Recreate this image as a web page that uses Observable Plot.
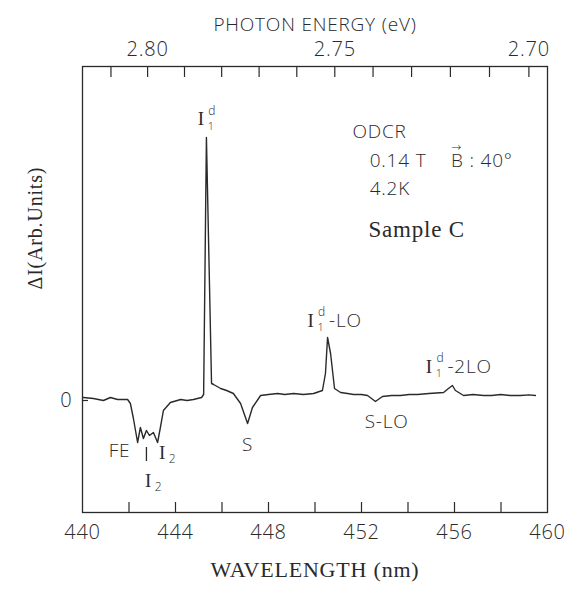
<!DOCTYPE html>
<html>
<head>
<meta charset="utf-8">
<script src="https://cdn.jsdelivr.net/npm/d3@7"></script>
<script src="https://cdn.jsdelivr.net/npm/@observablehq/plot@0.6"></script>
<style>
  html, body { margin: 0; padding: 0; background: #fff; }
  svg text { letter-spacing: 0.8px; }
</style>
</head>
<body>
<div id="chart"></div>
<script>
// ---- data ----
const wavelength = [
  440.04, 440.47, 440.90, 441.20, 441.51, 441.94, 442.06, 442.19, 442.37, 442.49,
  442.62, 442.75, 442.88, 443.05, 443.23, 443.35, 443.48, 443.78, 444.22, 444.50,
  444.77, 445.12, 445.21, 445.33, 445.55, 445.64, 445.94, 446.20, 446.49, 446.80,
  447.10, 447.31, 447.66, 448.00, 448.39, 448.70, 449.08, 449.50, 449.94, 450.32,
  450.45, 450.54, 450.67, 450.84, 451.10, 451.40, 451.66, 452.00, 452.26, 452.60,
  452.90, 453.30, 453.68, 454.05, 454.41, 454.90, 455.53, 455.74, 455.91, 456.04,
  456.39, 456.80, 457.25, 457.60, 457.98, 458.40, 458.84, 459.20, 459.48
];
const intensity = [
  0.075, 0.05, 0.0, 0.075, 0.025, 0.025, -0.075, -0.45, -1.05, -0.675,
  -0.95, -0.75, -0.875, -0.80, -1.05, -0.675, -0.25, -0.05, 0.025, 0.0,
  0.025, 0.075, 0.15, 6.575, 0.425, 0.40, 0.30, 0.25, 0.175, -0.075,
  -0.575, -0.175, 0.125, 0.15, 0.175, 0.15, 0.175, 0.15, 0.175, 0.25,
  0.675, 1.575, 1.175, 0.30, 0.20, 0.175, 0.15, 0.15, 0.125, -0.025,
  0.10, 0.125, 0.125, 0.15, 0.15, 0.175, 0.20, 0.30, 0.375, 0.25,
  0.125, 0.15, 0.125, 0.125, 0.15, 0.125, 0.125, 0.14, 0.125
];

const wavelengthTicks = [442, 444, 446, 448, 450, 452, 454, 456, 458];
const wavelengthLabels = [440, 444, 448, 452, 456, 460];
const energyTicks = [2.81, 2.80, 2.79, 2.78, 2.77, 2.76, 2.75, 2.74, 2.73, 2.72, 2.71, 2.70];
const energyLabels = [2.80, 2.75, 2.70];
const yTicks = [0];

const xTitle = "WAVELENGTH (nm)";
const topTitle = "PHOTON ENERGY (eV)";
const yTitle = "\u0394I(Arb.Units)";

// annotation anchors (wavelength nm, intensity a.u.)
const i1dLabels = [
  {x: 445.11, y: 7.03, suffix: ""},
  {x: 449.83, y: 2.0, suffix: "-LO"},
  {x: 454.92, y: 0.85, suffix: "-2LO"}
];
const i2Labels = [
  {x: 443.44, y: -1.30},
  {x: 442.84, y: -2.00}
];
const plainLabels = [
  {x: 441.59, y: -1.25, text: "FE"},
  {x: 447.10, y: -1.10, text: "S"},
  {x: 453.08, y: -0.525, text: "S-LO"}
];
const feMarker = [{x: 442.75, y1: -1.175, y2: -1.525}];
const infoLines = [
  {x: 451.61, y: 6.725, text: "ODCR"},
  {x: 452.35, y: 6.0, text: "0.14 T"},
  {x: 455.85, y: 6.0, text: "B : 40\u00B0"},
  {x: 452.35, y: 5.3, text: "4.2K"}
];
const vectorArrow = [{x: 455.85, y: 6.0, text: "\u2192"}];
const sampleLabel = [{x: 452.30, y: 4.275, text: "Sample C"}];

// ---- build ----
const HC = 1239.84;
const data = wavelength.map((x, i) => ({x, y: intensity[i]}));
const ink = "#2a2a2a";
const sans = "'Open Sans', 'DejaVu Sans', sans-serif";
const serif = "'Liberation Serif', serif";

const chart = Plot.plot({
  width: 577,
  height: 601,
  marginLeft: 82,
  marginRight: 30,
  marginTop: 66,
  marginBottom: 89,
  x: {domain: [440, 460]},
  y: {domain: [-2.8, 8.35]},
  style: {fontFamily: sans, fontSize: "18px", fontWeight: 300, color: ink, background: "#fff"},
  marks: [
    Plot.frame({stroke: ink, strokeWidth: 1.3}),
    // bottom axis
    Plot.axisX({anchor: "bottom", ticks: wavelengthTicks, tickSize: -10, tickFormat: () => "", label: null, stroke: ink, strokeWidth: 1.2}),
    Plot.axisX({anchor: "bottom", ticks: wavelengthLabels, tickSize: 0, tickPadding: 12, tickFormat: d => String(d), label: null, fontSize: 20, fill: ink}),
    // top axis (photon energy)
    Plot.axisX({anchor: "top", ticks: energyTicks.map(e => HC / e), tickSize: -10, tickFormat: () => "", label: null, stroke: ink, strokeWidth: 1.2}),
    Plot.axisX({anchor: "top", ticks: energyLabels.map(e => HC / e), tickSize: 0, tickPadding: 11, tickFormat: d => (HC / d).toFixed(2), label: null, fontSize: 20, fill: ink}),
    // left axis
    Plot.axisY({ticks: yTicks, tickSize: -6, tickFormat: () => "", label: null, stroke: ink, strokeWidth: 1.2}),
    Plot.axisY({ticks: yTicks, tickSize: 0, tickPadding: 10, tickFormat: d => String(d), label: null, fontSize: 20, fill: ink}),
    // titles
    Plot.text([xTitle], {frameAnchor: "bottom", dy: 64, fontFamily: serif, fontSize: 22, fontWeight: 400, fill: ink}),
    Plot.text([topTitle], {frameAnchor: "top", dy: -49, fontSize: 19, fill: ink}),
    Plot.text([yTitle], {frameAnchor: "left", rotate: -90, dx: -47, fontFamily: serif, fontSize: 20, fontWeight: 400, fill: ink}),
    // spectrum
    Plot.line(data, {x: "x", y: "y", stroke: ink, strokeWidth: 1.4}),
    // annotations
    Plot.text(i1dLabels, {x: "x", y: "y", text: () => "I", fontFamily: serif, fontWeight: 400, fontSize: 19, fill: ink}),
    Plot.text(i1dLabels, {x: "x", y: "y", text: () => "d", dx: 11, dy: -8, fontSize: 12, fill: ink}),
    Plot.text(i1dLabels, {x: "x", y: "y", text: () => "1", dx: 10, dy: 7, fontSize: 11, fill: ink}),
    Plot.text(i1dLabels, {x: "x", y: "y", text: "suffix", dx: 18, textAnchor: "start", fontSize: 19, fill: ink}),
    Plot.text(i2Labels, {x: "x", y: "y", text: () => "I", fontFamily: serif, fontWeight: 400, fontSize: 19, fill: ink}),
    Plot.text(i2Labels, {x: "x", y: "y", text: () => "2", dx: 10, dy: 7, fontSize: 12, fill: ink}),
    Plot.text(plainLabels, {x: "x", y: "y", text: "text", fontSize: 19, fill: ink}),
    Plot.ruleX(feMarker, {x: "x", y1: "y1", y2: "y2", stroke: ink, strokeWidth: 1.3}),
    Plot.text(infoLines, {x: "x", y: "y", text: "text", textAnchor: "start", fontSize: 19, fill: ink}),
    Plot.text(vectorArrow, {x: "x", y: "y", text: "text", textAnchor: "start", dx: 0, dy: -13, fontSize: 12, fill: ink}),
    Plot.text(sampleLabel, {x: "x", y: "y", text: "text", textAnchor: "start", fontFamily: serif, fontWeight: 400, fontSize: 23, fill: ink})
  ]
});
document.getElementById("chart").appendChild(chart);
</script>
</body>
</html>
